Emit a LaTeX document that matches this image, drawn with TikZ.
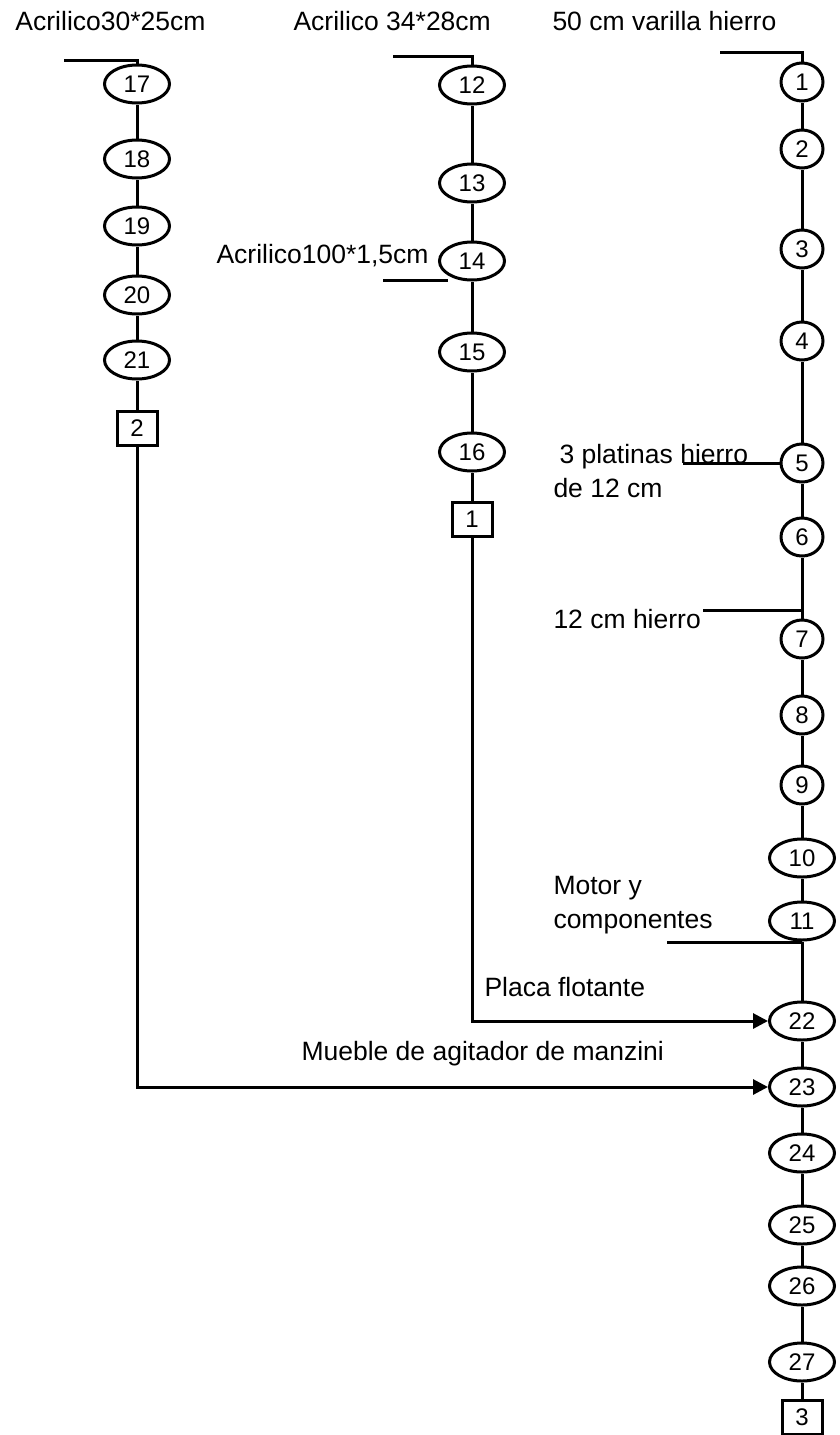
\documentclass[tikz,border=0pt]{standalone}
\usepackage{fontspec}
\setmainfont{Liberation Sans}
\usetikzlibrary{arrows.meta, shapes.geometric}

\begin{document}
\begin{tikzpicture}[
    x=1pt, y=-1pt,
    line width=3pt,
    every node/.style={font=\fontsize{26.5}{34}\selectfont, inner sep=0pt},
    oval/.style={draw, ellipse, minimum width=65pt, minimum height=38pt,
                 font=\fontsize{24}{28}\selectfont},
    kreis/.style={oval, minimum width=42pt},
    kasten/.style={draw, rectangle, minimum width=40pt, minimum height=34pt,
                   font=\fontsize{24}{28}\selectfont},
    beschriftung/.style={anchor=base west, align=left},
    pfeil/.style={-{Triangle[length=15pt, width=15pt]}},
  ]
  \useasboundingbox (0,0) rectangle (839,1435);

  % Spalte links: Acrilico 30*25
  \node[beschriftung] (titel1) at (14,30) {Acrilico30*25cm};
  \foreach \n/\y in {17/84, 18/159, 19/226, 20/295, 21/360}
    \node[oval] (n\n) at (137,\y) {\n};
  \node[kasten] (k2) at (137,428) {2};
  \coordinate (anfang1) at (64,60);
  \draw (anfang1) -| (n17.north);
  \foreach \a/\b in {17/18, 18/19, 19/20, 20/21}
    \draw (n\a) -- (n\b);
  \draw (n21) -- (k2);

  % Spalte Mitte: Acrilico 34*28
  \node[beschriftung] (titel2) at (292,30) {Acrilico 34*28cm};
  \foreach \n/\y in {12/85, 13/183, 14/261, 15/352, 16/452}
    \node[oval] (n\n) at (472,\y) {\n};
  \node[kasten] (k1) at (472,519) {1};
  \coordinate (anfang2) at (393,56);
  \draw (anfang2) -| (n12.north);
  \foreach \a/\b in {12/13, 13/14, 14/15, 15/16}
    \draw (n\a) -- (n\b);
  \draw (n16) -- (k1);

  % Seitenteil an 14
  \node[beschriftung] (acr) at (215,263) {Acrilico100*1,5cm};
  \coordinate (acrlinie) at (383,280);
  \draw (acrlinie) -- (acrlinie -| n14.south west);

  % Spalte rechts: Varilla, dann Hauptlinie
  \node[beschriftung] (titel3) at (551,30) {50 cm varilla hierro};
  \foreach \n/\y in {1/82, 2/149, 3/249, 4/341, 5/463, 6/537, 7/639, 8/715, 9/785}
    \node[kreis] (n\n) at (802,\y) {\n};
  \foreach \n/\y in {10/858, 11/921, 22/1021, 23/1087, 24/1153, 25/1225, 26/1286, 27/1362}
    \node[oval] (n\n) at (802,\y) {\n};
  \node[kasten] (k3) at (802,1417) {3};
  \coordinate (anfang3) at (720,52);
  \draw (anfang3) -| (n1.north);
  \foreach \a/\b in {1/2, 2/3, 3/4, 4/5, 5/6, 6/7, 7/8, 8/9, 9/10, 10/11,
                     11/22, 22/23, 23/24, 24/25, 25/26, 26/27}
    \draw (n\a) -- (n\b);
  \draw (n27) -- (k3);

  % Zugaenge von der Seite (base = letzte Zeile)
  \node[beschriftung] (platinas) at (552,497) {\hspace*{6pt}3 platinas hierro\\de 12 cm};
  \coordinate (platlinie) at (683,463);
  \draw (platlinie) -- (n5.west);

  \node[beschriftung] (hierro) at (552,628) {12 cm hierro};
  \coordinate (hierrolinie) at (703,610);
  \draw (hierrolinie) -- (hierrolinie -| n7.north);

  \node[beschriftung] (motor) at (552,928) {Motor y\\componentes};
  \coordinate (motorlinie) at (667,942);
  \draw (motorlinie) -- (motorlinie -| n11.south);

  % Unterbaugruppen 1 und 2 in die Hauptlinie
  \node[beschriftung] (placa) at (483,996) {Placa flotante};
  \draw[pfeil] (k1.south) |- (n22.west);
  \node[beschriftung] (mueble) at (300,1060) {Mueble de agitador de manzini};
  \draw[pfeil] (k2.south) |- (n23.west);
\end{tikzpicture}
\end{document}
